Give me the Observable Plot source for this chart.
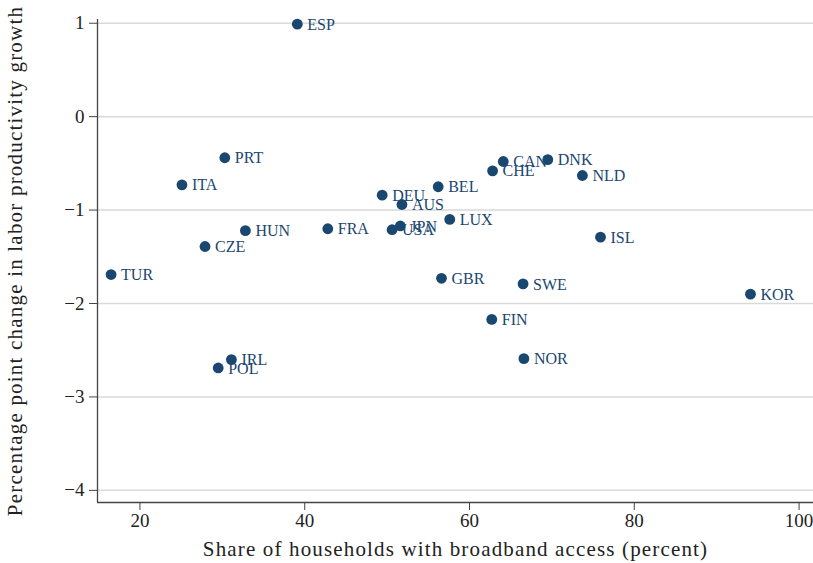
<!DOCTYPE html>
<html>
<head>
<meta charset="utf-8">
<script src="https://cdn.jsdelivr.net/npm/d3@7"></script>
<script src="https://cdn.jsdelivr.net/npm/@observablehq/plot@0.6"></script>
<style>
  html, body { margin: 0; padding: 0; background: #fff; }
  #chart svg { display: block; }
</style>
</head>
<body>
<div id="chart"></div>
<script>
const countries = ["ESP","PRT","ITA","HUN","CZE","TUR","IRL","POL","FRA","DEU","AUS","JPN","USA","BEL","LUX","GBR","CAN","CHE","DNK","NLD","ISL","SWE","FIN","NOR","KOR"];
const broadband = [39.1, 30.3, 25.1, 32.8, 27.9, 16.5, 31.1, 29.5, 42.8, 49.4, 51.8, 51.6, 50.6, 56.2, 57.6, 56.6, 64.1, 62.8, 69.5, 73.7, 75.9, 66.5, 62.7, 66.6, 94.1];
const prodChange = [0.99, -0.44, -0.73, -1.22, -1.39, -1.69, -2.60, -2.69, -1.20, -0.84, -0.94, -1.17, -1.21, -0.75, -1.10, -1.73, -0.48, -0.58, -0.46, -0.63, -1.29, -1.79, -2.17, -2.59, -1.90];
const xTicks = [20, 40, 60, 80, 100];
const yTicks = [1, 0, -1, -2, -3, -4];
const xDomain = [14.85, 101.75];
const yDomain = [-4.13, 1.04];
const xTitle = "Share of households with broadband access (percent)";
const yTitle = "Percentage point change in labor productivity growth";

const data = countries.map((c, i) => ({country: c, x: broadband[i], y: prodChange[i]}));
const navy = "#1a476f";

const chart = Plot.plot({
  width: 813,
  height: 563,
  marginTop: 19,
  marginBottom: 61,
  marginLeft: 97,
  marginRight: 0,
  style: {fontFamily: "Liberation Serif", fontSize: "19px", color: "#222", background: "#fff"},
  x: {domain: xDomain, ticks: xTicks},
  y: {domain: yDomain, ticks: yTicks},
  marks: [
    Plot.gridY(yTicks, {stroke: "#d9d9d9", strokeOpacity: 1, strokeWidth: 1.5}),
    Plot.ruleX([xDomain[0]], {stroke: "#444", strokeWidth: 1.3}),
    Plot.ruleY([yDomain[0]], {stroke: "#444", strokeWidth: 1.3}),
    Plot.axisX(xTicks, {tickSize: 8, tickPadding: 3, stroke: "#444", fontSize: 19,
      label: xTitle, labelAnchor: "center", labelOffset: 53, labelArrow: false}),
    Plot.axisY(yTicks, {tickSize: 8, tickPadding: 5, stroke: "#444", fontSize: 19, tickFormat: d => d < 0 ? "\u2212" + Math.abs(d) : String(d),
      label: yTitle, labelAnchor: "center", labelOffset: 90, labelArrow: false}),
    Plot.dot(data, {x: "x", y: "y", r: 5.4, fill: navy, stroke: "none"}),
    Plot.text(data, {x: "x", y: "y", text: "country", fill: navy, textAnchor: "start", dx: 10, dy: 0.5, fontSize: 16})
  ]
});
document.getElementById("chart").appendChild(chart);

// Axis titles: match the wider serif of the reference
d3.select(chart).selectAll("text").each(function () {
  const t = d3.select(this);
  const s = t.text();
  if (s === xTitle) t.style("font-size", "21px").style("letter-spacing", "1.15px");
  if (s === yTitle) t.style("font-size", "21px").style("letter-spacing", "1.2px");
});
</script>
</body>
</html>
